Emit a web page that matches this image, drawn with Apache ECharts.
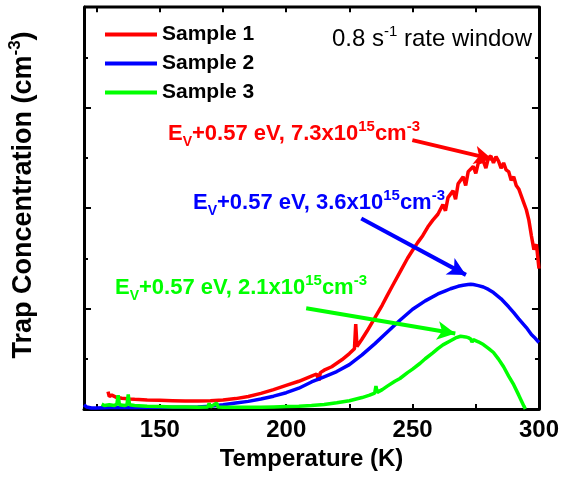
<!DOCTYPE html>
<html>
<head>
<meta charset="utf-8">
<script src="https://cdn.jsdelivr.net/npm/echarts@6/dist/echarts.min.js"></script>
<style>
  html, body { margin: 0; padding: 0; background: #ffffff; }
  #chart { width: 562px; height: 477px; }
</style>
</head>
<body>
<div id="chart"></div>
<script>
// DLTS trap spectra: temperature (K) vs trap concentration (10^15 cm^-3)
const sample1T = [129.5, 130, 131, 133, 135, 138, 140, 145, 150, 155, 160, 165, 170, 175, 180, 185, 190, 195, 200, 205, 210, 212, 213, 213.5, 215, 218, 220, 222, 225, 227, 227.5, 228, 230, 232, 235, 238, 240, 242, 245, 248, 250, 252, 254, 256, 258, 260, 262, 263, 264, 266, 267, 268, 270, 271, 272, 274, 275, 276, 278, 279, 280, 281, 282, 283, 284, 285, 286, 287, 288, 289, 290, 291, 292, 293, 294, 295, 296, 297, 298, 299, 300];
const sample1N = [0.50, 0.36, 0.40, 0.33, 0.31, 0.29, 0.28, 0.26, 0.25, 0.24, 0.23, 0.23, 0.24, 0.26, 0.30, 0.36, 0.45, 0.56, 0.68, 0.80, 0.95, 1.01, 0.82, 1.05, 1.12, 1.22, 1.32, 1.42, 1.60, 1.74, 2.45, 1.80, 2.02, 2.25, 2.62, 3.00, 3.28, 3.55, 3.95, 4.35, 4.58, 4.80, 5.00, 5.25, 5.45, 5.62, 5.90, 5.72, 6.10, 6.30, 6.05, 6.50, 6.70, 6.45, 6.85, 7.00, 6.80, 7.10, 7.15, 6.95, 7.25, 7.30, 7.10, 7.28, 7.15, 6.95, 7.10, 6.90, 6.85, 6.60, 6.70, 6.45, 6.35, 6.15, 5.95, 5.75, 5.45, 5.00, 4.60, 4.75, 4.05];

const sample2T = [120, 121, 123, 125, 130, 135, 140, 150, 160, 165, 170, 175, 180, 185, 190, 195, 200, 205, 210, 215, 220, 225, 230, 235, 240, 245, 250, 255, 260, 263, 265, 268, 270, 272, 273, 274, 276, 278, 280, 282, 285, 288, 290, 292, 295, 297, 298, 300];
const sample2N = [0.12, 0.06, 0.03, 0.03, 0.04, 0.04, 0.04, 0.05, 0.05, 0.06, 0.08, 0.12, 0.17, 0.22, 0.29, 0.37, 0.47, 0.60, 0.78, 0.93, 1.08, 1.28, 1.56, 1.88, 2.22, 2.56, 2.88, 3.12, 3.32, 3.41, 3.47, 3.54, 3.57, 3.59, 3.60, 3.59, 3.56, 3.52, 3.45, 3.36, 3.18, 2.95, 2.78, 2.60, 2.35, 2.15, 2.08, 1.92];

const sample3T = [127, 128, 130, 132, 133, 133.5, 134, 136, 137, 137.5, 138, 140, 145, 150, 155, 160, 165, 169, 169.5, 170, 172.5, 173, 175, 180, 185, 190, 195, 200, 205, 210, 215, 220, 225, 230, 233, 235, 235.5, 236, 238, 240, 243, 245, 248, 250, 253, 255, 258, 260, 262, 265, 267, 269, 271, 272, 273, 273.5, 274, 276, 278, 280, 282, 284, 286, 288, 290, 292, 294, 294.6];
const sample3N = [0.14, 0.10, 0.12, 0.10, 0.14, 0.40, 0.12, 0.10, 0.12, 0.42, 0.12, 0.10, 0.08, 0.07, 0.06, 0.06, 0.05, 0.06, 0.16, 0.06, 0.17, 0.06, 0.05, 0.05, 0.05, 0.05, 0.06, 0.07, 0.08, 0.10, 0.13, 0.18, 0.24, 0.33, 0.40, 0.46, 0.66, 0.48, 0.56, 0.66, 0.80, 0.88, 1.05, 1.15, 1.32, 1.45, 1.62, 1.74, 1.85, 1.97, 2.05, 2.10, 2.08, 2.06, 2.02, 1.93, 2.00, 1.94, 1.86, 1.75, 1.63, 1.44, 1.22, 0.95, 0.70, 0.40, 0.09, 0.00];

const seriesNames = ['Sample 1', 'Sample 2', 'Sample 3'];
const seriesColors = ['#ff0000', '#0000ff', '#00ff00'];
const peakValues = ['7.3', '3.6', '2.1'];

// arrows from each annotation to its peak, in data units [T, N]
const arrowStarts = [[249.9, 7.76], [229.7, 5.50], [207.9, 2.91]];
const arrowEnds = [[281.5, 7.21], [271.1, 3.87], [266.9, 2.18]];

const xTickValues = [125, 150, 175, 200, 225, 250, 275, 300];
const xLabelValues = [150, 200, 250, 300];

const X_MIN = 120, X_MAX = 300, Y_MIN = 0, Y_MAX = 11.6;
const TOP_TICK_END = 11.45;

const FONT = '"Liberation Sans", Arial, Helvetica, sans-serif';

function zip(ts, ns) { return ts.map((t, i) => [t, ns[i]]); }

const axisLineStyle = { show: true, onZero: false, lineStyle: { color: '#000', width: 3 } };

const bottomAxis = {
  type: 'value', min: X_MIN, max: X_MAX, position: 'bottom',
  axisLine: axisLineStyle,
  axisTick: { show: true, inside: true, length: 5, lineStyle: { color: '#000', width: 2 }, customValues: xTickValues },
  axisLabel: {
    show: true, customValues: xLabelValues, margin: 9,
    fontSize: 24, fontWeight: 'bold', color: '#000', fontFamily: FONT
  },
  splitLine: { show: false },
  name: 'Temperature (K)',
  nameLocation: 'middle', nameGap: 37,
  nameTextStyle: { fontSize: 24, fontWeight: 'bold', color: '#000', fontFamily: FONT }
};

const concAxis = (pos) => ({
  type: 'value', min: Y_MIN, max: Y_MAX, interval: 2.9, position: pos,
  axisLine: axisLineStyle,
  axisTick: { show: true, inside: true, length: 7, lineStyle: { color: '#000', width: 2 } },
  minorTick: { show: true, splitNumber: 2, length: 4, lineStyle: { color: '#000', width: 2 } },
  axisLabel: { show: false },
  splitLine: { show: false },
  minorSplitLine: { show: false }
});

const samples = [zip(sample1T, sample1N), zip(sample2T, sample2N), zip(sample3T, sample3N)];

const series = samples.map((d, i) => ({
  name: seriesNames[i], type: 'line', data: d, showSymbol: false,
  xAxisIndex: 0, yAxisIndex: 0, z: 2 + i,
  lineStyle: { color: seriesColors[i], width: 3.5 },
  itemStyle: { color: seriesColors[i] },
  markLine: {
    silent: true, animation: false,
    symbol: ['none', 'arrow'], symbolSize: [14, 18],
    lineStyle: { color: seriesColors[i], width: 4, type: 'solid' },
    label: { show: false },
    data: [[{ coord: arrowStarts[i] }, { coord: arrowEnds[i] }]]
  }
}));

// top edge of the plot frame with its inward ticks
series.push({
  name: 'frame', type: 'line', z: 20, clip: false, silent: true, showSymbol: false,
  data: [[X_MIN, Y_MAX], [X_MAX, Y_MAX]],
  lineStyle: { color: '#000', width: 3 },
  itemStyle: { color: '#000' },
  markLine: {
    silent: true, animation: false, symbol: ['none', 'none'],
    lineStyle: { color: '#000', width: 2, type: 'solid' },
    label: { show: false },
    data: xTickValues.map((t) => [{ coord: [t, Y_MAX] }, { coord: [t, TOP_TICK_END] }])
  }
});

const chart = echarts.init(document.getElementById('chart'), null, { renderer: 'canvas' });
chart.setOption({
  animation: false,
  backgroundColor: '#ffffff',
  grid: { left: 84, right: 22, top: 7, bottom: 68, containLabel: false },
  xAxis: [bottomAxis],
  yAxis: [concAxis('left'), concAxis('right')],
  legend: {
    data: seriesNames, orient: 'vertical', left: 100, top: 19,
    icon: 'rect', itemWidth: 52, itemHeight: 4, itemGap: 8,
    textStyle: { fontSize: 21, fontWeight: 'bold', color: '#000', fontFamily: FONT, lineHeight: 21 }
  },
  series,
  graphic: [
    {
      type: 'text', x: 24, y: 195, rotation: Math.PI / 2,
      style: {
        text: '{m|Trap Concentration (cm}{sup|-3}{m|)}',
        align: 'center', verticalAlign: 'middle',
        rich: {
          m: { fontSize: 27, fontWeight: 'bold', fill: '#000', fontFamily: FONT, lineHeight: 34 },
          sup: { fontSize: 17, fontWeight: 'bold', fill: '#000', fontFamily: FONT, verticalAlign: 'top', lineHeight: 17 }
        }
      }
    },
    {
      type: 'text', x: 532, y: 39,
      style: {
        text: '{m|0.8 s}{sup|-1}{m| rate window}',
        align: 'right', verticalAlign: 'middle',
        rich: {
          m: { fontSize: 24, fill: '#000', fontFamily: FONT, lineHeight: 30 },
          sup: { fontSize: 15, fill: '#000', fontFamily: FONT, verticalAlign: 'top', lineHeight: 15 }
        }
      }
    },
    ...peakValues.map((v, i) => ({
      type: 'text', x: [168, 193, 115][i], y: [134, 203, 288][i], z: 10,
      style: {
        text: '{m|E}{sub|V}{m|+0.57 eV, ' + v + 'x10}{sup|15}{m|cm}{sup|-3}',
        fill: seriesColors[i],
        align: 'left', verticalAlign: 'middle',
        rich: {
          m: { fontSize: 22, fontWeight: 'bold', fill: seriesColors[i], fontFamily: FONT, lineHeight: 30 },
          sub: { fontSize: 14, fontWeight: 'bold', fill: seriesColors[i], fontFamily: FONT, verticalAlign: 'bottom', lineHeight: 14 },
          sup: { fontSize: 15, fontWeight: 'bold', fill: seriesColors[i], fontFamily: FONT, verticalAlign: 'top', lineHeight: 15 }
        }
      }
    }))
  ]
});
</script>
</body>
</html>
